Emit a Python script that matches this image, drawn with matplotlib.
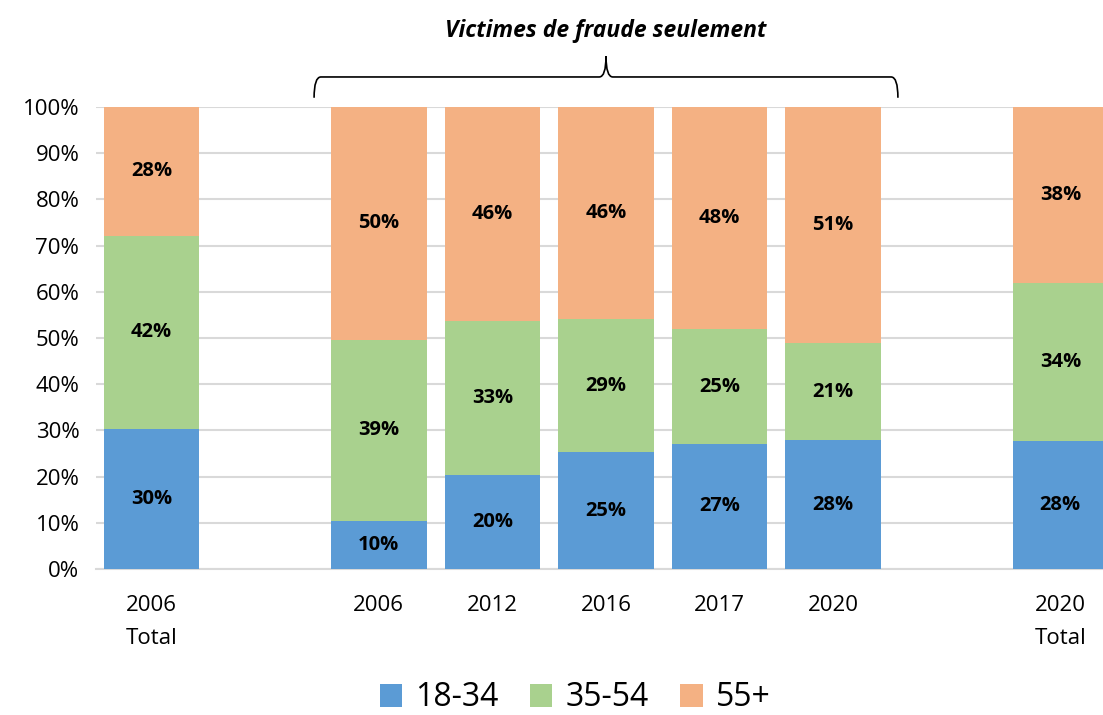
import numpy as np
import matplotlib.pyplot as plt
from matplotlib.path import Path
from matplotlib.patches import PathPatch, Patch
import matplotlib.transforms as mtransforms

plt.rcParams['font.family'] = ['Open Sans', 'DejaVu Sans']

# ==================== 数据 ====================
categories = ['2006\nTotal', '2006', '2012', '2016', '2017', '2020', '2020\nTotal']
positions = [0, 2, 3, 4, 5, 6, 8]
age_groups = ['18-34', '35-54', '55+']
young = [30.4, 10.4, 20.3, 25.3, 27.1, 27.9, 27.7]
middle = [41.7, 39.2, 33.4, 28.8, 24.8, 21.0, 34.2]
senior = [27.9, 50.4, 46.3, 45.9, 48.1, 51.1, 38.1]
colors = ['#5B9BD5', '#A9D18E', '#F4B183']
bracket_title = 'Victimes de fraude seulement'

# ==================== 画布 ====================
fig = plt.figure(figsize=(11.03, 7.15), dpi=100)
ax = fig.add_axes([96 / 1103, 146 / 715, 1020 / 1103, 462 / 715])

width = 0.84
bottom = np.zeros(len(categories))
for vals, color in zip([young, middle, senior], colors):
    vals = np.array(vals)
    ax.bar(positions, vals, width, bottom=bottom, color=color, zorder=3)
    for x, b, v in zip(positions, bottom, vals):
        ax.text(x, b + v / 2, f'{v:.0f}%', ha='center', va='center',
                fontsize=14.5, fontweight='bold', color='black', zorder=4)
    bottom += vals

ax.set_xlim(-0.49, 8.49)
ax.set_ylim(0, 100)
ax.set_yticks(np.arange(0, 101, 10))
ax.set_yticklabels([f'{t}%' for t in range(0, 101, 10)])
ax.set_xticks(positions)
ax.set_xticklabels(categories, linespacing=1.75)
ax.tick_params(axis='both', length=0, labelsize=16)
ax.tick_params(axis='x', pad=19)
ax.tick_params(axis='y', pad=12)
ax.yaxis.grid(True, color='#D9D9D9', linewidth=1.5, zorder=0)
for s in ['top', 'right', 'left']:
    ax.spines[s].set_visible(False)
ax.spines['bottom'].set_color('#D9D9D9')
ax.spines['bottom'].set_linewidth(1.5)

# 大括号
trans = mtransforms.blended_transform_factory(ax.transData, ax.transAxes)
x0, x1, xm = 1.43, 6.57, 4.0
y_end, y_mid, y_tip = 1.02, 1.065, 1.11
r = 0.06
verts = [
    (x0, y_end), (x0, y_mid), (x0 + r, y_mid),
    (xm - r, y_mid), (xm, y_mid), (xm, y_tip),
    (xm, y_mid), (xm + r, y_mid),
    (x1 - r, y_mid), (x1, y_mid), (x1, y_end),
]
codes = [Path.MOVETO, Path.CURVE3, Path.CURVE3,
         Path.LINETO, Path.CURVE3, Path.CURVE3,
         Path.CURVE3, Path.CURVE3,
         Path.LINETO, Path.CURVE3, Path.CURVE3]
brace = PathPatch(Path(verts, codes), transform=trans, fill=False,
                  edgecolor='black', linewidth=1.2, clip_on=False)
ax.add_patch(brace)
ax.text(xm, 1.165, bracket_title, transform=trans, ha='center', va='center',
        fontsize=16.5, fontweight='bold', fontstyle='italic')

handles = [Patch(facecolor=c, label=l) for c, l in zip(colors, age_groups)]
fig.legend(handles=handles, loc='center', bbox_to_anchor=(575 / 1103, 1 - 698 / 715),
           ncol=3, frameon=False, fontsize=23, handlelength=0.7, handleheight=0.7,
           handletextpad=0.4, columnspacing=1.0)

fig.savefig('out.png', dpi=100)
